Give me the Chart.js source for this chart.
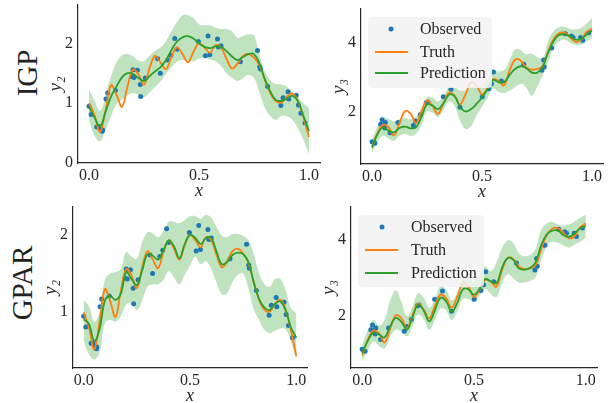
<!DOCTYPE html>
<html>
<head>
<meta charset="utf-8">
<script src="https://cdn.jsdelivr.net/npm/chart.js@4"></script>
<style>
  html, body { margin: 0; padding: 0; background: #fff; width: 609px; height: 403px; overflow: hidden; }
  canvas { position: absolute; }
  .row { position: absolute; font-family: "Liberation Serif", serif; font-size: 29px; color: #222;
         transform: translate(-50%, -50%) rotate(-90deg); white-space: nowrap; }
  .leg { position: absolute; background: rgba(242,242,242,0.85); border-radius: 4px;
         font-family: "Liberation Serif", serif; font-size: 16px; color: #262626; }
  .leg .t { position: absolute; line-height: 16px; transform: translateY(-50%); white-space: nowrap; }
  .leg .ln { position: absolute; height: 2px; transform: translateY(-50%); }
  .leg .dot { position: absolute; width: 5px; height: 5px; border-radius: 50%; background: #1f77b4; transform: translate(-50%, -50%); }
</style>
</head>
<body>
<div class="row" style="left:27px; top:73px;">IGP</div>
<div class="row" style="left:22px; top:283px;">GPAR</div>
<script>
const xs = [0, 0.025, 0.05, 0.075, 0.1, 0.125, 0.15, 0.175, 0.2, 0.225,
  0.25, 0.275, 0.3, 0.325, 0.35, 0.375, 0.4, 0.425, 0.45, 0.475,
  0.5, 0.525, 0.55, 0.575, 0.6, 0.625, 0.65, 0.675, 0.7, 0.725,
  0.75, 0.775, 0.8, 0.825, 0.85, 0.875, 0.9, 0.925, 0.95, 0.975,
  1];

// ground truth (same in both rows)
const truthY2 = [1.00, 0.80, 0.52, 0.88, 1.30, 1.14, 0.94, 1.28, 1.56, 1.48,
  1.31, 1.58, 1.79, 1.68, 1.57, 1.78, 1.93, 1.82, 1.68, 1.86,
  2.00, 1.93, 1.84, 1.97, 1.93, 1.74, 1.58, 1.66, 1.79, 1.82,
  1.76, 1.63, 1.39, 1.16, 1.03, 1.01, 1.11, 1.16, 1.03, 0.76,
  0.43];
const truthY3 = [0.97, 1.38, 1.62, 1.55, 1.31, 1.67, 2.02, 1.95, 1.68, 2.02,
  2.33, 2.17, 1.94, 2.26, 2.56, 2.47, 2.22, 2.51, 2.86, 2.77,
  2.50, 2.69, 2.95, 2.90, 2.77, 3.20, 3.52, 3.50, 3.30, 3.23,
  3.25, 3.33, 3.75, 4.12, 4.29, 4.31, 4.18, 4.04, 4.10, 4.33,
  4.43];

// observations
const obsX2 = [0, 0.01, 0.035, 0.045, 0.055, 0.06, 0.062, 0.077, 0.085, 0.12,
  0.195, 0.2, 0.205, 0.22, 0.233, 0.235, 0.256, 0.312, 0.324, 0.358,
  0.372, 0.39, 0.4, 0.497, 0.529, 0.541, 0.549, 0.584, 0.588, 0.6,
  0.688, 0.766, 0.776, 0.779, 0.812, 0.872, 0.882, 0.905, 0.908, 0.942,
  0.952, 0.963, 0.982];
const obsY2 = [0.95, 0.81, 0.6, 0.61, 0.56, 0.53, 0.55, 1.07, 1.17, 1.21,
  1.44, 1.56, 1.43, 1.55, 1.31, 1.11, 1.42, 1.74, 1.5, 1.72,
  1.8, 2.08, 1.9, 2.03, 1.79, 2.12, 1.81, 2.07, 1.94, 1.96,
  1.69, 1.88, 1.61, 1.57, 1.28, 0.96, 1.09, 1.19, 1.07, 1.13,
  0.97, 0.83, 0.67];
const obsX3 = [0, 0.013, 0.039, 0.046, 0.052, 0.058, 0.061, 0.082, 0.118, 0.188,
  0.198, 0.22, 0.247, 0.254, 0.324, 0.359, 0.4, 0.501, 0.531, 0.543,
  0.552, 0.588, 0.69, 0.772, 0.78, 0.783, 0.817, 0.879, 0.906, 0.914,
  0.948, 0.958, 0.985];
const obsY3 = [1.13, 1.08, 1.64, 1.77, 1.62, 1.53, 1.69, 1.39, 1.69, 1.6,
  1.73, 1.92, 2.27, 2.29, 2.44, 2.66, 2.13, 2.44, 2.67, 2.82,
  3.16, 2.9, 3.39, 3.21, 3.51, 3.31, 3.86, 4.28, 4.21, 4.17,
  4.17, 4.09, 4.31];

// IGP predictions
const igpPredY2 = [0.94, 0.76, 0.61, 0.85, 1.11, 1.28, 1.43, 1.50, 1.49, 1.42,
  1.37, 1.45, 1.53, 1.60, 1.72, 1.89, 2.03, 2.10, 2.12, 2.08,
  2.00, 1.94, 1.92, 1.95, 1.94, 1.87, 1.78, 1.72, 1.77, 1.82,
  1.82, 1.66, 1.39, 1.19, 1.05, 1.04, 1.08, 1.12, 1.03, 0.78,
  0.53];
const igpUpperY2 = [1.23, 1.05, 0.87, 1.12, 1.45, 1.68, 1.80, 1.82, 1.78, 1.71,
  1.70, 1.79, 1.87, 1.93, 2.04, 2.20, 2.35, 2.47, 2.47, 2.42,
  2.32, 2.30, 2.30, 2.26, 2.24, 2.24, 2.20, 2.09, 2.12, 2.15,
  2.13, 1.80, 1.52, 1.38, 1.32, 1.31, 1.27, 1.18, 1.10, 1.00,
  0.92];
const igpLowerY2 = [0.72, 0.46, 0.36, 0.55, 0.78, 0.98, 1.06, 1.13, 1.17, 1.14,
  1.10, 1.18, 1.27, 1.36, 1.49, 1.60, 1.69, 1.72, 1.70, 1.70,
  1.74, 1.76, 1.73, 1.70, 1.62, 1.50, 1.43, 1.37, 1.42, 1.47,
  1.42, 1.18, 0.92, 0.78, 0.72, 0.79, 0.78, 0.72, 0.58, 0.38,
  0.14];
const igpPredY3 = [0.96, 1.35, 1.55, 1.45, 1.40, 1.53, 1.57, 1.52, 1.55, 1.85,
  2.22, 2.18, 2.08, 2.25, 2.50, 2.46, 2.15, 2.01, 2.08, 2.23,
  2.42, 2.65, 2.93, 2.87, 2.86, 3.07, 3.25, 3.33, 3.28, 3.15,
  3.14, 3.30, 3.72, 4.06, 4.24, 4.26, 4.20, 4.11, 4.13, 4.25,
  4.37];
const igpUpperY3 = [1.15, 1.58, 1.82, 1.80, 1.72, 1.78, 1.82, 1.78, 1.85, 2.12,
  2.42, 2.42, 2.30, 2.47, 2.72, 2.72, 2.62, 2.62, 2.70, 2.75,
  2.78, 2.95, 3.20, 3.18, 3.22, 3.50, 3.82, 3.80, 3.68, 3.70,
  3.60, 3.55, 4.05, 4.35, 4.47, 4.48, 4.42, 4.40, 4.45, 4.58,
  4.74];
const igpLowerY3 = [0.80, 1.12, 1.30, 1.22, 1.15, 1.30, 1.35, 1.30, 1.35, 1.62,
  2.02, 1.98, 1.85, 2.05, 2.30, 2.18, 1.75, 1.50, 1.58, 1.90,
  2.15, 2.40, 2.68, 2.58, 2.55, 2.62, 2.72, 2.82, 2.72, 2.48,
  2.72, 3.05, 3.45, 3.85, 4.05, 4.10, 4.02, 3.95, 3.95, 4.05,
  4.15];

// GPAR predictions
const gparPredY2 = [0.91, 0.85, 0.63, 0.78, 1.15, 1.21, 1.16, 1.24, 1.52, 1.43,
  1.35, 1.54, 1.75, 1.73, 1.68, 1.80, 1.93, 1.85, 1.70, 1.88,
  2.00, 1.96, 1.88, 1.96, 1.96, 1.78, 1.62, 1.65, 1.74, 1.77,
  1.75, 1.65, 1.38, 1.17, 1.06, 1.03, 1.11, 1.14, 1.02, 0.80,
  0.67];
const gparUpperY2 = [1.16, 1.08, 0.88, 1.00, 1.42, 1.50, 1.52, 1.56, 1.78, 1.72,
  1.69, 1.90, 2.03, 2.02, 1.97, 2.05, 2.17, 2.17, 2.15, 2.19,
  2.24, 2.24, 2.21, 2.26, 2.22, 2.10, 1.99, 1.97, 2.01, 2.01,
  1.99, 1.93, 1.75, 1.50, 1.36, 1.33, 1.43, 1.43, 1.28, 1.05,
  0.99];
const gparLowerY2 = [0.64, 0.46, 0.39, 0.48, 0.86, 0.90, 0.88, 0.95, 1.10, 1.12,
  1.03, 1.15, 1.33, 1.36, 1.36, 1.42, 1.53, 1.45, 1.36, 1.48,
  1.60, 1.72, 1.62, 1.66, 1.56, 1.38, 1.23, 1.25, 1.39, 1.48,
  1.50, 1.30, 1.04, 0.90, 0.77, 0.73, 0.76, 0.79, 0.78, 0.62,
  0.39];
const gparPredY3 = [1.03, 1.35, 1.57, 1.52, 1.44, 1.73, 1.95, 1.85, 1.64, 1.97,
  2.30, 2.15, 1.86, 2.15, 2.48, 2.39, 2.12, 2.34, 2.70, 2.70,
  2.56, 2.72, 2.97, 2.91, 2.86, 3.26, 3.52, 3.48, 3.25, 3.22,
  3.26, 3.40, 3.85, 4.14, 4.24, 4.24, 4.12, 4.08, 4.17, 4.30,
  4.37];
const gparUpperY3 = [1.25, 1.62, 1.90, 1.75, 1.90, 2.40, 2.68, 2.38, 2.00, 2.25,
  2.60, 2.48, 2.22, 2.45, 2.78, 2.70, 2.42, 2.58, 3.00, 3.05,
  2.88, 3.10, 3.30, 3.18, 3.40, 3.78, 3.98, 3.92, 3.65, 3.57,
  3.60, 3.75, 4.25, 4.42, 4.47, 4.40, 4.37, 4.40, 4.48, 4.58,
  4.66];
const gparLowerY3 = [0.82, 1.10, 1.33, 1.22, 1.15, 1.45, 1.65, 1.60, 1.47, 1.73,
  2.05, 1.92, 1.64, 1.90, 2.20, 2.15, 1.90, 2.12, 2.45, 2.45,
  2.38, 2.55, 2.72, 2.58, 2.50, 2.85, 3.10, 3.00, 2.88, 2.88,
  2.92, 3.02, 3.45, 3.82, 3.95, 3.92, 3.85, 3.80, 3.88, 3.95,
  4.06];

const xTickVals = [0, 0.5, 1];
const xTickLabels = ['0.0', '0.5', '1.0'];

const FONT = '"Liberation Serif", "DejaVu Serif", serif';
const BLUE = '#1f77b4', ORANGE = '#ff7f0e', GREEN = '#2ca02c';
const BAND = 'rgba(44,160,44,0.3)';
const INK = '#262626';

function pts(xArr, yArr) {
  return xArr.map((x, i) => ({ x: x, y: yArr[i] }));
}

function makePanel(p) {
  // padTop is larger than the y axis label overflow so the plot area lands where intended
  const yw = 40, padTop = 16, padRight = 6, xh = 38;
  const c = document.createElement('canvas');
  c.width = yw + (p.right - p.left) + padRight;
  c.height = padTop + (p.bottom - p.top) + xh;
  c.style.left = (p.left - yw) + 'px';
  c.style.top = (p.top - padTop) + 'px';
  document.body.appendChild(c);

  const line = (label, data, color) => ({
    label: label, data: data, borderColor: color, borderWidth: 1.8,
    pointRadius: 0, tension: 0.4, fill: false
  });

  new Chart(c.getContext('2d'), {
    type: 'line',
    data: {
      datasets: [
        line('Prediction', pts(xs, p.pred), GREEN),
        line('Truth', pts(xs, p.truth), ORANGE),
        {
          label: 'Observed', data: pts(p.obsX, p.obsY), showLine: false,
          pointRadius: 2.5, pointBackgroundColor: BLUE, pointBorderColor: BLUE, pointBorderWidth: 0
        },
        {
          label: 'upper', data: pts(xs, p.upper), borderColor: 'transparent',
          pointRadius: 0, tension: 0.4, fill: '+1', backgroundColor: BAND
        },
        {
          label: 'lower', data: pts(xs, p.lower), borderColor: 'transparent',
          pointRadius: 0, tension: 0.4, fill: false
        }
      ]
    },
    options: {
      responsive: false,
      animation: false,
      devicePixelRatio: 1,
      layout: { padding: { top: padTop, right: padRight, left: 0, bottom: 0 } },
      plugins: { legend: { display: false }, tooltip: { enabled: false } },
      scales: {
        x: {
          type: 'linear', min: -0.05, max: 1.05,
          afterFit: s => { s.height = xh; },
          afterBuildTicks: s => { s.ticks = xTickVals.map(v => ({ value: v })); },
          ticks: {
            callback: v => xTickLabels[xTickVals.indexOf(v)],
            font: { family: FONT, size: 16 }, color: INK, padding: 3, maxRotation: 0
          },
          grid: { display: false, drawTicks: false },
          border: { display: true, color: INK, width: 1.2 },
          title: {
            display: true, text: 'x', color: INK,
            font: { family: FONT, size: 18, style: 'italic', lineHeight: 1 },
            padding: { top: 0, bottom: 1 }
          }
        },
        y: {
          type: 'linear', min: p.yMin, max: p.yMax,
          afterFit: s => { s.width = yw; },
          afterBuildTicks: s => { s.ticks = p.yTicks.map(v => ({ value: v })); },
          ticks: {
            callback: v => String(v),
            font: { family: FONT, size: 16 }, color: INK, padding: 5
          },
          grid: { display: false, drawTicks: false },
          border: { display: true, color: INK, width: 1.2 },
          title: {
            display: true, text: p.yLabel, color: INK,
            font: { family: FONT, size: 19, style: 'italic', lineHeight: 1 },
            padding: { top: 8, bottom: 0 }
          }
        }
      }
    }
  });
}

function makeLegend(box) {
  const d = document.createElement('div');
  d.className = 'leg';
  d.style.left = box.left + 'px';
  d.style.top = box.top + 'px';
  d.style.width = box.width + 'px';
  d.style.height = box.height + 'px';
  d.innerHTML =
    '<div class="dot" style="left:' + box.dotX + 'px; top:' + box.rows[0] + 'px"></div>' +
    '<div class="ln" style="left:' + box.lineX + 'px; width:33px; top:' + box.rows[1] + 'px; background:' + ORANGE + '"></div>' +
    '<div class="ln" style="left:' + box.lineX + 'px; width:33px; top:' + box.rows[2] + 'px; background:' + GREEN + '"></div>' +
    '<div class="t" style="left:' + box.textX + 'px; top:' + box.rows[0] + 'px">Observed</div>' +
    '<div class="t" style="left:' + box.textX + 'px; top:' + box.rows[1] + 'px">Truth</div>' +
    '<div class="t" style="left:' + box.textX + 'px; top:' + box.rows[2] + 'px">Prediction</div>';
  document.body.appendChild(d);
}

makePanel({ left: 78, right: 320, top: 5, bottom: 163, yMin: 0, yMax: 2.64, yTicks: [0, 1, 2],
  yLabel: 'y\u2082', pred: igpPredY2, upper: igpUpperY2, lower: igpLowerY2, truth: truthY2, obsX: obsX2, obsY: obsY2 });
makePanel({ left: 361, right: 603, top: 9, bottom: 164, yMin: 0.478, yMax: 5.0, yTicks: [2, 4],
  yLabel: 'y\u2083', pred: igpPredY3, upper: igpUpperY3, lower: igpLowerY3, truth: truthY3, obsX: obsX3, obsY: obsY3 });
makePanel({ left: 73, right: 307, top: 207, bottom: 368, yMin: 0.28, yMax: 2.36, yTicks: [1, 2],
  yLabel: 'y\u2082', pred: gparPredY2, upper: gparUpperY2, lower: gparLowerY2, truth: truthY2, obsX: obsX2, obsY: obsY2 });
makePanel({ left: 351, right: 597, top: 207, bottom: 368, yMin: 0.64, yMax: 4.86, yTicks: [2, 4],
  yLabel: 'y\u2083', pred: gparPredY3, upper: gparUpperY3, lower: gparLowerY3, truth: truthY3, obsX: obsX3, obsY: obsY3 });

makeLegend({ left: 368, top: 17, width: 124, height: 71, dotX: 23, lineX: 7, textX: 52, rows: [12, 35, 56] });
makeLegend({ left: 358, top: 215, width: 126, height: 72, dotX: 24, lineX: 7, textX: 53, rows: [12, 35, 58] });
</script>
</body>
</html>
